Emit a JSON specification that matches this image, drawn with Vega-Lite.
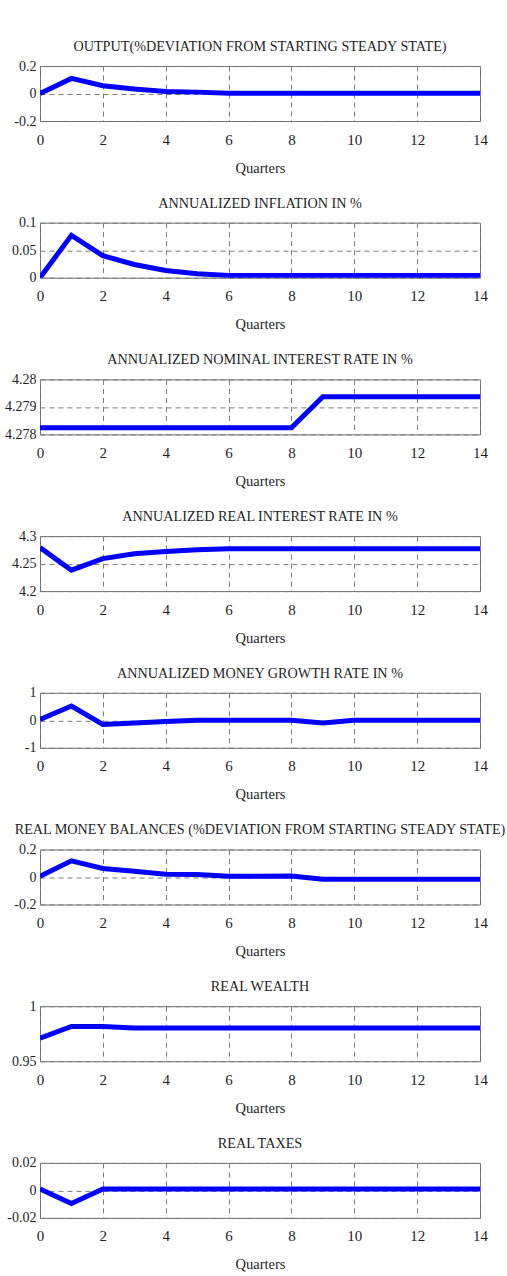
{
  "$schema": "https://vega.github.io/schema/vega-lite/v6.json",
  "background": "white",
  "padding": {"left": 4, "top": 39, "right": 2, "bottom": 5},
  "datasets": {
    "irf": [
      {"s": "output", "q": 0, "v": 0}, {"s": "output", "q": 1, "v": 0.11}, {"s": "output", "q": 2, "v": 0.057}, {"s": "output", "q": 3, "v": 0.033}, {"s": "output", "q": 4, "v": 0.015}, {"s": "output", "q": 5, "v": 0.01}, {"s": "output", "q": 6, "v": 0.002}, {"s": "output", "q": 7, "v": 0.001}, {"s": "output", "q": 8, "v": 0.001}, {"s": "output", "q": 9, "v": 0.001}, {"s": "output", "q": 10, "v": 0.001}, {"s": "output", "q": 11, "v": 0.001}, {"s": "output", "q": 12, "v": 0.001}, {"s": "output", "q": 13, "v": 0.001}, {"s": "output", "q": 14, "v": 0.001},
      {"s": "infl", "q": 0, "v": 0}, {"s": "infl", "q": 1, "v": 0.077}, {"s": "infl", "q": 2, "v": 0.04}, {"s": "infl", "q": 3, "v": 0.024}, {"s": "infl", "q": 4, "v": 0.013}, {"s": "infl", "q": 5, "v": 0.007}, {"s": "infl", "q": 6, "v": 0.004}, {"s": "infl", "q": 7, "v": 0.004}, {"s": "infl", "q": 8, "v": 0.004}, {"s": "infl", "q": 9, "v": 0.004}, {"s": "infl", "q": 10, "v": 0.004}, {"s": "infl", "q": 11, "v": 0.004}, {"s": "infl", "q": 12, "v": 0.004}, {"s": "infl", "q": 13, "v": 0.004}, {"s": "infl", "q": 14, "v": 0.004},
      {"s": "nom", "q": 0, "v": 4.27824}, {"s": "nom", "q": 1, "v": 4.27824}, {"s": "nom", "q": 2, "v": 4.27824}, {"s": "nom", "q": 3, "v": 4.27824}, {"s": "nom", "q": 4, "v": 4.27824}, {"s": "nom", "q": 5, "v": 4.27824}, {"s": "nom", "q": 6, "v": 4.27824}, {"s": "nom", "q": 7, "v": 4.27824}, {"s": "nom", "q": 8, "v": 4.27824}, {"s": "nom", "q": 9, "v": 4.27937}, {"s": "nom", "q": 10, "v": 4.27937}, {"s": "nom", "q": 11, "v": 4.27937}, {"s": "nom", "q": 12, "v": 4.27937}, {"s": "nom", "q": 13, "v": 4.27937}, {"s": "nom", "q": 14, "v": 4.27937},
      {"s": "real", "q": 0, "v": 4.279}, {"s": "real", "q": 1, "v": 4.238}, {"s": "real", "q": 2, "v": 4.259}, {"s": "real", "q": 3, "v": 4.268}, {"s": "real", "q": 4, "v": 4.272}, {"s": "real", "q": 5, "v": 4.275}, {"s": "real", "q": 6, "v": 4.277}, {"s": "real", "q": 7, "v": 4.277}, {"s": "real", "q": 8, "v": 4.277}, {"s": "real", "q": 9, "v": 4.277}, {"s": "real", "q": 10, "v": 4.277}, {"s": "real", "q": 11, "v": 4.277}, {"s": "real", "q": 12, "v": 4.277}, {"s": "real", "q": 13, "v": 4.277}, {"s": "real", "q": 14, "v": 4.277},
      {"s": "money", "q": 0, "v": 0.03}, {"s": "money", "q": 1, "v": 0.52}, {"s": "money", "q": 2, "v": -0.15}, {"s": "money", "q": 3, "v": -0.1}, {"s": "money", "q": 4, "v": -0.04}, {"s": "money", "q": 5, "v": 0}, {"s": "money", "q": 6, "v": 0}, {"s": "money", "q": 7, "v": 0}, {"s": "money", "q": 8, "v": 0}, {"s": "money", "q": 9, "v": -0.1}, {"s": "money", "q": 10, "v": 0}, {"s": "money", "q": 11, "v": 0}, {"s": "money", "q": 12, "v": 0}, {"s": "money", "q": 13, "v": 0}, {"s": "money", "q": 14, "v": 0},
      {"s": "rmb", "q": 0, "v": 0.005}, {"s": "rmb", "q": 1, "v": 0.118}, {"s": "rmb", "q": 2, "v": 0.062}, {"s": "rmb", "q": 3, "v": 0.042}, {"s": "rmb", "q": 4, "v": 0.02}, {"s": "rmb", "q": 5, "v": 0.018}, {"s": "rmb", "q": 6, "v": 0.006}, {"s": "rmb", "q": 7, "v": 0.006}, {"s": "rmb", "q": 8, "v": 0.008}, {"s": "rmb", "q": 9, "v": -0.016}, {"s": "rmb", "q": 10, "v": -0.016}, {"s": "rmb", "q": 11, "v": -0.016}, {"s": "rmb", "q": 12, "v": -0.016}, {"s": "rmb", "q": 13, "v": -0.016}, {"s": "rmb", "q": 14, "v": -0.016},
      {"s": "wealth", "q": 0, "v": 0.9709}, {"s": "wealth", "q": 1, "v": 0.9816}, {"s": "wealth", "q": 2, "v": 0.9816}, {"s": "wealth", "q": 3, "v": 0.9802}, {"s": "wealth", "q": 4, "v": 0.9802}, {"s": "wealth", "q": 5, "v": 0.9802}, {"s": "wealth", "q": 6, "v": 0.9802}, {"s": "wealth", "q": 7, "v": 0.9802}, {"s": "wealth", "q": 8, "v": 0.9802}, {"s": "wealth", "q": 9, "v": 0.9802}, {"s": "wealth", "q": 10, "v": 0.9802}, {"s": "wealth", "q": 11, "v": 0.9802}, {"s": "wealth", "q": 12, "v": 0.9802}, {"s": "wealth", "q": 13, "v": 0.9802}, {"s": "wealth", "q": 14, "v": 0.9802},
      {"s": "tax", "q": 0, "v": 0.001}, {"s": "tax", "q": 1, "v": -0.0096}, {"s": "tax", "q": 2, "v": 0.001}, {"s": "tax", "q": 3, "v": 0.001}, {"s": "tax", "q": 4, "v": 0.001}, {"s": "tax", "q": 5, "v": 0.001}, {"s": "tax", "q": 6, "v": 0.001}, {"s": "tax", "q": 7, "v": 0.001}, {"s": "tax", "q": 8, "v": 0.001}, {"s": "tax", "q": 9, "v": 0.001}, {"s": "tax", "q": 10, "v": 0.001}, {"s": "tax", "q": 11, "v": 0.001}, {"s": "tax", "q": 12, "v": 0.001}, {"s": "tax", "q": 13, "v": 0.001}, {"s": "tax", "q": 14, "v": 0.001}
    ]
  },
  "data": {"name": "irf"},
  "spacing": 20.7,
  "vconcat": [
    {"title": "OUTPUT(%DEVIATION FROM STARTING STEADY STATE)", "width": 440, "height": 55,
     "transform": [{"filter": "datum.s == 'output'"}],
     "mark": {"type": "line", "color": "#0000ff", "strokeWidth": 5, "clip": true},
     "encoding": {
       "x": {"field": "q", "type": "quantitative", "scale": {"domain": [0, 14], "nice": false}, "axis": {"values": [0, 2, 4, 6, 8, 10, 12, 14], "title": "Quarters"}},
       "y": {"field": "v", "type": "quantitative", "scale": {"domain": [-0.2, 0.2], "nice": false, "zero": false}, "axis": {"values": [-0.2, 0, 0.2], "title": null}}}},
    {"title": "ANNUALIZED INFLATION IN %", "width": 440, "height": 55,
     "transform": [{"filter": "datum.s == 'infl'"}],
     "mark": {"type": "line", "color": "#0000ff", "strokeWidth": 5, "clip": true},
     "encoding": {
       "x": {"field": "q", "type": "quantitative", "scale": {"domain": [0, 14], "nice": false}, "axis": {"values": [0, 2, 4, 6, 8, 10, 12, 14], "title": "Quarters"}},
       "y": {"field": "v", "type": "quantitative", "scale": {"domain": [0, 0.1], "nice": false, "zero": false}, "axis": {"values": [0, 0.05, 0.1], "title": null}}}},
    {"title": "ANNUALIZED NOMINAL INTEREST RATE IN %", "width": 440, "height": 55,
     "transform": [{"filter": "datum.s == 'nom'"}],
     "mark": {"type": "line", "color": "#0000ff", "strokeWidth": 5, "clip": true},
     "encoding": {
       "x": {"field": "q", "type": "quantitative", "scale": {"domain": [0, 14], "nice": false}, "axis": {"values": [0, 2, 4, 6, 8, 10, 12, 14], "title": "Quarters"}},
       "y": {"field": "v", "type": "quantitative", "scale": {"domain": [4.278, 4.28], "nice": false, "zero": false}, "axis": {"values": [4.278, 4.279, 4.28], "title": null}}}},
    {"title": "ANNUALIZED REAL INTEREST RATE IN %", "width": 440, "height": 55,
     "transform": [{"filter": "datum.s == 'real'"}],
     "mark": {"type": "line", "color": "#0000ff", "strokeWidth": 5, "clip": true},
     "encoding": {
       "x": {"field": "q", "type": "quantitative", "scale": {"domain": [0, 14], "nice": false}, "axis": {"values": [0, 2, 4, 6, 8, 10, 12, 14], "title": "Quarters"}},
       "y": {"field": "v", "type": "quantitative", "scale": {"domain": [4.2, 4.3], "nice": false, "zero": false}, "axis": {"values": [4.2, 4.25, 4.3], "title": null}}}},
    {"title": "ANNUALIZED MONEY GROWTH RATE IN %", "width": 440, "height": 55,
     "transform": [{"filter": "datum.s == 'money'"}],
     "mark": {"type": "line", "color": "#0000ff", "strokeWidth": 5, "clip": true},
     "encoding": {
       "x": {"field": "q", "type": "quantitative", "scale": {"domain": [0, 14], "nice": false}, "axis": {"values": [0, 2, 4, 6, 8, 10, 12, 14], "title": "Quarters"}},
       "y": {"field": "v", "type": "quantitative", "scale": {"domain": [-1, 1], "nice": false, "zero": false}, "axis": {"values": [-1, 0, 1], "title": null}}}},
    {"title": "REAL MONEY BALANCES (%DEVIATION FROM STARTING STEADY STATE)", "width": 440, "height": 55,
     "transform": [{"filter": "datum.s == 'rmb'"}],
     "mark": {"type": "line", "color": "#0000ff", "strokeWidth": 5, "clip": true},
     "encoding": {
       "x": {"field": "q", "type": "quantitative", "scale": {"domain": [0, 14], "nice": false}, "axis": {"values": [0, 2, 4, 6, 8, 10, 12, 14], "title": "Quarters"}},
       "y": {"field": "v", "type": "quantitative", "scale": {"domain": [-0.2, 0.2], "nice": false, "zero": false}, "axis": {"values": [-0.2, 0, 0.2], "title": null}}}},
    {"title": "REAL WEALTH", "width": 440, "height": 55,
     "transform": [{"filter": "datum.s == 'wealth'"}],
     "mark": {"type": "line", "color": "#0000ff", "strokeWidth": 5, "clip": true},
     "encoding": {
       "x": {"field": "q", "type": "quantitative", "scale": {"domain": [0, 14], "nice": false}, "axis": {"values": [0, 2, 4, 6, 8, 10, 12, 14], "title": "Quarters"}},
       "y": {"field": "v", "type": "quantitative", "scale": {"domain": [0.95, 1], "nice": false, "zero": false}, "axis": {"values": [0.95, 1], "title": null}}}},
    {"title": "REAL TAXES", "width": 440, "height": 55,
     "transform": [{"filter": "datum.s == 'tax'"}],
     "mark": {"type": "line", "color": "#0000ff", "strokeWidth": 5, "clip": true},
     "encoding": {
       "x": {"field": "q", "type": "quantitative", "scale": {"domain": [0, 14], "nice": false}, "axis": {"values": [0, 2, 4, 6, 8, 10, 12, 14], "title": "Quarters"}},
       "y": {"field": "v", "type": "quantitative", "scale": {"domain": [-0.02, 0.02], "nice": false, "zero": false}, "axis": {"values": [-0.02, 0, 0.02], "title": null}}}}
  ],
  "config": {
    "font": "Liberation Serif",
    "view": {"stroke": "#6e6e6e", "strokeWidth": 1},
    "title": {"font": "Liberation Serif", "fontSize": 14.2, "fontWeight": "normal", "color": "#1e1e1e", "offset": 5, "anchor": "middle"},
    "axis": {
      "labelFont": "Liberation Serif", "labelFontSize": 15, "labelColor": "#1e1e1e",
      "titleFont": "Liberation Serif", "titleFontSize": 14.5, "titleFontWeight": "normal", "titleColor": "#1e1e1e",
      "grid": true, "gridColor": "#7a7a7a", "gridDash": [5, 4], "gridWidth": 1,
      "domain": false, "ticks": false, "labelPadding": 11, "titlePadding": 14,
      "labelExpr": "toString(datum.value)", "labelFlush": false, "labelOverlap": false, "labelBound": false
    },
    "axisY": {"labelPadding": 4, "labelFontSize": 14}
  }
}
